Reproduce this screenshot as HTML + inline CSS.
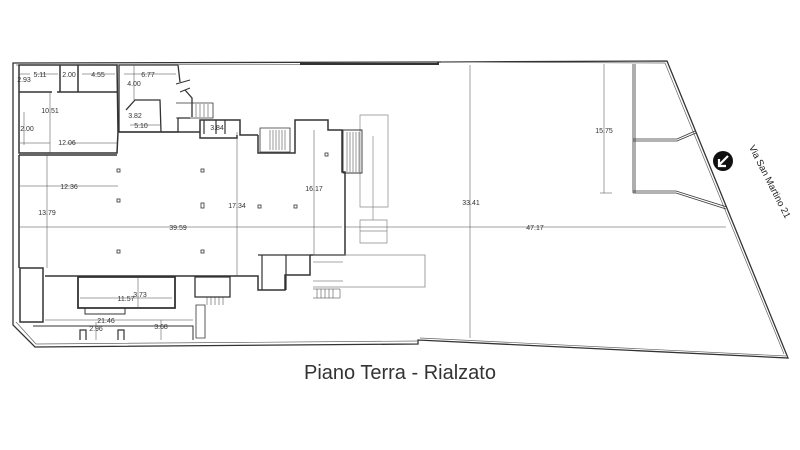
<!DOCTYPE html>
<html><head><meta charset="utf-8"><style>
html,body{margin:0;padding:0;background:#fff;}
svg{display:block;}
text{font-family:"Liberation Sans",sans-serif;}
</style></head><body>
<svg width="800" height="450" viewBox="0 0 800 450" xmlns="http://www.w3.org/2000/svg">
<rect width="800" height="450" fill="#fff"/>
<g fill="none" stroke="#333" stroke-width="1">
<!-- outer boundary -->
<path d="M13,63 L438,62 L667,61 L788,358 L418,340 L418,344 L35,347 L13,325 Z" stroke-width="1.3"/>
<path d="M16,65 L438,64 M441,62 L665,63 L784,354 M420,338 L786,356 M16,322 L36,344 L418,341" stroke="#666" stroke-width="0.7"/>
<path d="M300,64 L438,64 L438,62" stroke-width="2"/>
<!-- top-left block -->
<path d="M19,65 L19,153 L117,153 L118,132 L117,65 Z" stroke-width="1.5"/>
<path d="M19,92 L52,92 M57,92 L117,92 M60,65 L60,92 M78,65 L78,92" stroke-width="1.5"/>
<path d="M119,65 L178,65 M119,65 L119,132 M126,110 L135,100 L160,100 L161,132 M119,132 L178,132 L178,118 L190,118 M178,65 L180,82 M185,90 L192,98 L192,117" stroke-width="1.3"/>
<path d="M176,84 L190,80 M180,92 L190,88" stroke-width="1"/>
<!-- main hall -->
<path d="M19,155 L117,155 M118,132 L200,132 L200,120 L240,120 L240,135 L258,135 M200,132 L200,138 L237,138 L237,135 M258,135 L258,153 L295,153 L295,120 L328,120 L328,130 L342,130 L342,172 L345,172 L345,255 L310,255" stroke-width="1.5"/>
<path d="M19,155 L19,268" stroke-width="1.5"/>
<!-- stairs blocks -->
<path d="M260,128 L290,128 L290,152 L260,152 Z" stroke-width="0.8"/>
<g stroke-width="0.5"><path d="M270,130 L270,150 M273,130 L273,150 M276,130 L276,150 M279,130 L279,150 M282,130 L282,150 M285,130 L285,150"/></g>
<path d="M176,103 L213,103 L213,118 L176,118" stroke-width="0.8"/>
<g stroke-width="0.5"><path d="M192,104 L192,117 M196,104 L196,117 M200,104 L200,117 M204,104 L204,117 M208,104 L208,117"/></g>
<path d="M204,120 L204,134 M216,120 L216,134 M225,120 L225,134" stroke-width="1.2"/>
<!-- bottom of hall -->
<path d="M45,276 L258,276 L258,290 L285,290 L285,275 L310,275 L310,255" stroke-width="1.5"/>
<path d="M258,255 L310,255 M286,255 L286,290 M262,255 L262,290" stroke-width="1.2"/>
<path d="M20,268 L43,268 L43,322 L20,322 Z" stroke-width="1.5"/>
<path d="M78,277 L175,277 L175,308 L78,308 Z" stroke-width="1.8"/>
<path d="M85,308 L85,314 L125,314 L125,308" stroke-width="1"/>
<path d="M195,277 L230,277 L230,297 L195,297 Z" stroke-width="1.3"/>
<g stroke-width="0.5"><path d="M207,297 L207,305 M211,297 L211,305 M215,297 L215,305 M219,297 L219,305 M223,297 L223,305"/></g>
<path d="M196,305 L196,338 L205,338 L205,305 Z" stroke-width="0.8"/>
<path d="M33,326 L193,326 L193,340" stroke-width="1"/>
<path d="M80,340 L80,330 L86,330 L86,340 M118,340 L118,330 L124,330 L124,340" stroke-width="1.2"/>
<!-- right annex -->
<path d="M313,255 L425,255 L425,287 L313,287" stroke="#888" stroke-width="0.8"/>
<path d="M313,262 L343,262 M313,281 L343,281" stroke="#888" stroke-width="0.7"/>
<path d="M360,115 L388,115 L388,207 L360,207 Z M373,136 L373,220" stroke="#888" stroke-width="0.7"/>
<path d="M360,220 L387,220 L387,243 L360,243 Z M360,231 L387,231" stroke="#888" stroke-width="0.7"/>
<path d="M343,130 L362,130 L362,173 L343,173 Z" stroke-width="0.9"/>
<g stroke-width="0.5"><path d="M347,132 L347,172 M350,132 L350,172 M353,132 L353,172 M356,132 L356,172 M359,132 L359,172"/></g>
<g stroke-width="0.5"><path d="M313,289 L340,289 L340,298 L313,298 M317,289 L317,298 M321,289 L321,298 M325,289 L325,298 M329,289 L329,298 M333,289 L333,298"/></g>
<!-- parking -->
<path d="M633,64 L633,193 M635,64 L635,193" stroke-width="0.8"/>
<path d="M633,139 L677,139 L695,131 M633,141 L677,141 L696,133" stroke-width="0.8"/>
<path d="M633,191 L676,191 L727,207 M633,193 L676,193 L726,209" stroke-width="0.8"/>
<!-- dimensions -->
<g stroke-width="0.5" stroke="#444">
<path d="M604,64 L604,193 M600,193 L612,193"/>
<path d="M470,65 L470,338"/>
<path d="M344,227 L726,227"/>
<path d="M19,227 L342,227"/>
<path d="M20,186 L118,186 M47,155 L47,268 M237,132 L237,276 M314,130 L314,255 M80,298 L172,298 M138,277 L138,308 M45,320 L193,320 M161,320 L161,340 M96,322 L96,340 M24,112 L24,145 M67,143 L117,143 M20,143 L50,143 M50,92 L50,153 M134,65 L134,100 M130,125 L160,125 M37,74 L58,74 M20,74 L30,74 M82,74 L115,74 M124,74 L176,74"/>
</g>
</g>
<!-- columns -->
<g fill="none" stroke="#333" stroke-width="0.8">
<rect x="117" y="169" width="3" height="3"/><rect x="201" y="169" width="3" height="3"/>
<rect x="117" y="199" width="3" height="3"/><rect x="201" y="203" width="3" height="5"/>
<rect x="258" y="205" width="3" height="3"/><rect x="294" y="205" width="3" height="3"/>
<rect x="117" y="250" width="3" height="3"/><rect x="201" y="250" width="3" height="3"/>
<rect x="325" y="153" width="3" height="3"/>
</g>
<!-- labels -->
<g font-size="7" fill="#333" text-anchor="middle">
<text x="40" y="77">5.11</text><text x="24" y="82">2.93</text><text x="69" y="77">2.00</text><text x="98" y="77">4.55</text>
<text x="148" y="77">6.77</text><text x="134" y="86">4.00</text><text x="50" y="113">10.51</text><text x="27" y="131">2.00</text>
<text x="67" y="145">12.06</text><text x="135" y="118">3.82</text><text x="141" y="128">5.10</text><text x="217" y="130">3.84</text>
<text x="69" y="189">12.36</text><text x="47" y="215">13.79</text><text x="237" y="208">17.34</text><text x="314" y="191">16.17</text>
<text x="178" y="230">39.59</text><text x="140" y="297">3.73</text><text x="126" y="301">11.57</text><text x="106" y="323">21.46</text>
<text x="161" y="329">3.68</text><text x="96" y="331">2.96</text>
<text x="604" y="133">15.75</text><text x="471" y="205">33.41</text><text x="535" y="230">47.17</text>
</g>
<circle cx="723" cy="161" r="10" fill="#111"/>
<path d="M728,156 L719,165 M719,159 L719,166 L726,166" stroke="#fff" stroke-width="2.2" fill="none"/>
<text x="767" y="183" font-size="9.5" fill="#222" text-anchor="middle" transform="rotate(63 767 183)">Via San Martino 21</text>
<text x="400" y="379" font-size="20" fill="#333" text-anchor="middle">Piano Terra - Rialzato</text>
</svg>
</body></html>
